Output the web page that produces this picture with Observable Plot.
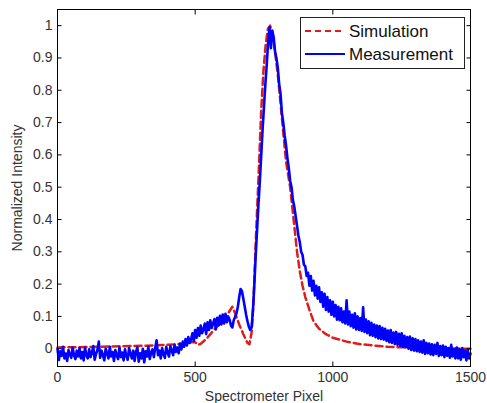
<!DOCTYPE html>
<html><head><meta charset="utf-8">
<script src="https://cdn.jsdelivr.net/npm/d3@7"></script>
<script src="https://cdn.jsdelivr.net/npm/@observablehq/plot@0.6"></script>
<style>body{margin:0;background:#fff} #chart{width:487px;height:403px}</style>
</head><body><div id="chart"></div><script>
const simX = [0,100,200,300,400,450,480,500,510,520,540,560,580,600,620,635,645,660,675,690,697,705,712,720,730,740,748,756,764,772,780,790,800,810,820,830,845,850,860,870,880,890,900,915,930,950,975,1000,1050,1100,1150,1200,1300,1400,1500];
const simY = [0.004,0.005,0.007,0.009,0.012,0.015,0.02,0.02,0.012,0.015,0.03,0.05,0.07,0.09,0.11,0.13,0.11,0.075,0.045,0.018,0.014,0.05,0.15,0.33,0.53,0.74,0.86,0.94,0.99,1.0,0.98,0.92,0.85,0.76,0.67,0.58,0.5,0.46,0.38,0.3,0.24,0.195,0.16,0.12,0.085,0.062,0.045,0.034,0.022,0.014,0.01,0.006,0.003,0.001,0.0];
const measX = [
0,5,10,15,20,25,30,35,40,45,50,55,60,65,70,75,80,85,90,95,
100,105,110,115,120,125,130,135,140,145,150,155,160,165,170,175,180,185,190,195,
200,205,210,215,220,225,230,235,240,245,250,255,260,265,270,275,280,285,290,295,
300,305,310,315,320,325,330,335,340,345,350,355,360,365,370,375,380,385,390,395,
400,405,410,415,420,425,430,435,440,445,450,455,460,465,470,475,480,485,490,495,
500,505,510,515,520,525,530,535,540,545,550,555,560,565,570,575,580,585,590,595,
600,605,610,615,620,625,630,635,640,645,650,655,660,665,670,675,680,685,690,695,
700,705,710,715,720,725,730,735,740,745,750,755,760,765,770,775,780,785,790,795,
800,805,810,815,820,825,830,835,840,845,850,855,860,865,870,875,880,885,890,895,
900,905,910,915,920,925,930,935,940,945,950,955,960,965,970,975,980,985,990,995,
1000,1005,1010,1015,1020,1025,1030,1035,1040,1045,1050,1055,1060,1065,1070,1075,1080,1085,1090,1095,
1100,1105,1110,1115,1120,1125,1130,1135,1140,1145,1150,1155,1160,1165,1170,1175,1180,1185,1190,1195,
1200,1205,1210,1215,1220,1225,1230,1235,1240,1245,1250,1255,1260,1265,1270,1275,1280,1285,1290,1295,
1300,1305,1310,1315,1320,1325,1330,1335,1340,1345,1350,1355,1360,1365,1370,1375,1380,1385,1390,1395,
1400,1405,1410,1415,1420,1425,1430,1435,1440,1445,1450,1455,1460,1465,1470,1475,1480,1485,1490,1495,
1500];
const measY = [
0.0,-0.035,-0.008,-0.022,0.006,-0.03,-0.015,-0.038,-0.004,-0.018,
-0.028,0.004,-0.02,-0.032,-0.006,-0.024,0.002,-0.03,-0.01,-0.036,
0.004,-0.02,-0.03,-0.002,-0.026,-0.012,0.008,-0.034,-0.016,-0.004,
0.022,-0.028,-0.006,-0.02,-0.036,0.0,-0.014,-0.03,0.006,-0.024,
-0.01,-0.038,-0.004,-0.02,-0.032,0.004,-0.026,-0.012,-0.036,-0.002,
-0.022,-0.034,0.002,-0.016,-0.03,-0.006,-0.038,-0.01,0.004,-0.04,
-0.014,-0.03,0.0,-0.042,-0.008,-0.024,0.006,-0.032,-0.012,-0.002,
-0.026,0.004,0.026,-0.02,-0.006,-0.03,0.002,-0.018,-0.028,0.006,
-0.012,-0.024,0.008,-0.006,-0.02,0.012,-0.01,0.004,-0.014,0.016,
-0.002,0.022,0.006,0.03,0.01,0.036,0.018,0.028,0.048,0.024,
0.058,0.034,0.064,0.04,0.072,0.048,0.06,0.078,0.045,0.082,
0.058,0.088,0.064,0.078,0.092,0.06,0.096,0.072,0.102,0.075,
0.106,0.078,0.108,0.082,0.1,0.09,0.072,0.066,0.088,0.098,
0.11,0.13,0.16,0.185,0.178,0.155,0.13,0.105,0.085,0.068,
0.058,0.066,0.12,0.2,0.29,0.37,0.45,0.52,0.6,0.68,
0.75,0.82,0.88,0.95,0.995,0.93,0.985,0.965,0.92,0.9,
0.87,0.82,0.79,0.73,0.7,0.66,0.63,0.59,0.56,0.52,
0.5,0.46,0.44,0.41,0.38,0.35,0.33,0.3,0.29,0.26,
0.255,0.225,0.235,0.195,0.225,0.18,0.21,0.165,0.195,0.155,
0.19,0.145,0.175,0.13,0.17,0.12,0.16,0.115,0.15,0.105,
0.145,0.1,0.135,0.09,0.13,0.088,0.125,0.082,0.115,0.078,
0.15,0.075,0.115,0.07,0.105,0.065,0.11,0.06,0.1,0.058,
0.095,0.055,0.128,0.052,0.09,0.048,0.085,0.042,0.08,0.04,
0.075,0.036,0.072,0.032,0.07,0.03,0.065,0.028,0.062,0.024,
0.056,0.02,0.058,0.018,0.05,0.014,0.052,0.012,0.046,0.008,
0.048,0.006,0.04,0.004,0.036,0.0,0.038,-0.004,0.032,-0.006,
0.03,-0.008,0.026,-0.01,0.022,-0.012,0.026,-0.016,0.018,-0.014,
0.016,-0.018,0.014,-0.02,0.012,-0.016,0.018,-0.022,0.008,-0.02,
0.01,-0.026,0.006,-0.022,0.002,-0.028,0.012,-0.024,-0.002,-0.03,
0.004,-0.03,-0.002,-0.034,0.002,-0.026,-0.006,-0.036,-0.004,-0.03,
-0.015];
const xTicks = [0,500,1000,1500];
const yTicks = [0,0.1,0.2,0.3,0.4,0.5,0.6,0.7,0.8,0.9,1];
const yTickLabels = ["0","0.1","0.2","0.3","0.4","0.5","0.6","0.7","0.8","0.9","1"];
const seriesNames = ["Simulation","Measurement"];
const seriesColors = ["#dd1c1c","#0000ff"];

const sim = simX.map((x,i)=>({x, y: simY[i]}));
const meas = measX.map((x,i)=>({x, y: measY[i]}));

const plot = Plot.plot({
  width: 487, height: 403,
  marginLeft: 57, marginRight: 17, marginTop: 9, marginBottom: 37,
  x: {domain: [0,1500]},
  y: {domain: [-0.055,1.05]},
  style: {fontFamily: "'Liberation Sans', Arial, sans-serif", fontSize: "14px", color: "#333", background: "white"},
  marks: [
    Plot.line(sim, {x:"x", y:"y", stroke: seriesColors[0], strokeWidth: 2.5, strokeDasharray: "7,4"}),
    Plot.line(meas, {x:"x", y:"y", stroke: seriesColors[1], strokeWidth: 2.6}),
    Plot.axisX({ticks: xTicks, tickFormat: d => String(d), tickSize: 0, tickPadding: 6, label: "Spectrometer Pixel", labelAnchor: "center", labelArrow: "none", labelOffset: 34}),
    Plot.axisY({ticks: yTicks, tickFormat: d => yTickLabels[yTicks.indexOf(d)], tickSize: 0, tickPadding: 5, label: "Normalized Intensity", labelAnchor: "center", labelArrow: "none", labelOffset: 45}),
    Plot.axisX({ticks: xTicks, tickSize: -4.5, fill: "none", label: null, stroke: "black"}),
    Plot.axisX({anchor: "top", ticks: xTicks, tickSize: -4.5, fill: "none", label: null, stroke: "black"}),
    Plot.axisY({ticks: yTicks, tickSize: -4.5, fill: "none", label: null, stroke: "black"}),
    Plot.axisY({anchor: "right", ticks: yTicks, tickSize: -4.5, fill: "none", label: null, stroke: "black"}),
    Plot.frame({stroke: "black"})
  ]
});
document.getElementById("chart").appendChild(plot);

// legend
const svg = d3.select(plot);
const lg = svg.append("g").attr("text-anchor", "start");
lg.append("rect").attr("x", 300.5).attr("y", 17.5).attr("width", 164).attr("height", 51).attr("fill", "white").attr("stroke", "#222");
const rows = [31, 54];
seriesNames.forEach((name, i) => {
  lg.append("line").attr("x1", 305).attr("x2", 345).attr("y1", rows[i]).attr("y2", rows[i])
    .attr("stroke", seriesColors[i]).attr("stroke-width", i === 0 ? 2 : 1.8)
    .attr("stroke-dasharray", i === 0 ? "6,4" : null);
  lg.append("text").attr("x", 349).attr("y", rows[i]).attr("dy", "0.36em").attr("text-anchor", "start")
    .attr("font-size", 17).attr("font-family", "'Liberation Sans', Arial, sans-serif").attr("fill", "#111").text(name);
});
</script></body></html>
